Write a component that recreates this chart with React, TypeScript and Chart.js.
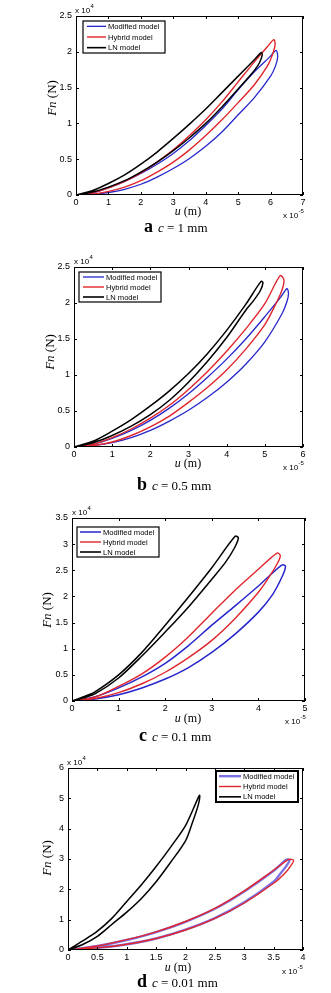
import React, { useEffect, useRef } from "react";
import { Chart, registerables } from "chart.js";
Chart.register(...registerables);

// ---------- DATA (u in 1e-5 m, Fn in 1e4 N); each loop: loading branch then unloading branch ----------
// Panel a: c = 1 mm
const aModU = [0, 0.5, 1, 1.5, 2, 2.5, 3, 3.5, 4, 4.5, 5, 5.5, 6, 6.17, 6.22, 6.15, 6.0, 5.5, 5, 4.5, 4, 3.5, 3, 2.5, 2, 1.5, 1, 0.5, 0];
const aModF = [0, 0.03, 0.1, 0.19, 0.3, 0.43, 0.58, 0.76, 0.97, 1.2, 1.47, 1.72, 1.94, 2.02, 1.93, 1.8, 1.66, 1.36, 1.12, 0.88, 0.68, 0.51, 0.37, 0.25, 0.15, 0.08, 0.035, 0.01, 0];
const aHybU = [0, 0.5, 1, 1.5, 2, 2.5, 3, 3.5, 4, 4.5, 5, 5.5, 5.9, 6.1, 6.14, 6.05, 5.9, 5.5, 5, 4.5, 4, 3.5, 3, 2.5, 2, 1.5, 1, 0.5, 0];
const aHybF = [0, 0.03, 0.1, 0.19, 0.31, 0.46, 0.63, 0.83, 1.05, 1.3, 1.58, 1.86, 2.07, 2.17, 2.1, 1.95, 1.8, 1.54, 1.29, 1.05, 0.83, 0.63, 0.46, 0.32, 0.2, 0.11, 0.05, 0.01, 0];
const aLnU = [0, 0.5, 1, 1.5, 2, 2.5, 3, 3.5, 4, 4.5, 5, 5.5, 5.72, 5.74, 5.65, 5.5, 5, 4.5, 4, 3.5, 3, 2.5, 2, 1.5, 1, 0.5, 0];
const aLnF = [0, 0.06, 0.16, 0.28, 0.43, 0.6, 0.79, 0.99, 1.2, 1.43, 1.66, 1.89, 1.99, 1.95, 1.84, 1.74, 1.48, 1.23, 1.0, 0.8, 0.62, 0.46, 0.32, 0.2, 0.11, 0.04, 0];

// Panel b: c = 0.5 mm
const bModU = [0, 0.5, 1, 1.5, 2, 2.5, 3, 3.5, 4, 4.5, 5, 5.4, 5.58, 5.62, 5.58, 5.45, 5, 4.5, 4, 3.5, 3, 2.5, 2, 1.5, 1, 0.5, 0];
const bModF = [0, 0.04, 0.12, 0.23, 0.37, 0.54, 0.74, 0.97, 1.22, 1.5, 1.81, 2.07, 2.2, 2.13, 2.02, 1.85, 1.46, 1.15, 0.9, 0.69, 0.51, 0.36, 0.23, 0.13, 0.06, 0.02, 0];
const bHybU = [0, 0.5, 1, 1.5, 2, 2.5, 3, 3.5, 4, 4.5, 5, 5.4, 5.5, 5.45, 5.3, 5, 4.5, 4, 3.5, 3, 2.5, 2, 1.5, 1, 0.5, 0];
const bHybF = [0, 0.04, 0.13, 0.25, 0.4, 0.58, 0.8, 1.05, 1.33, 1.64, 1.99, 2.38, 2.32, 2.18, 2.0, 1.7, 1.36, 1.07, 0.83, 0.62, 0.43, 0.28, 0.16, 0.07, 0.02, 0];
const bLnU = [0, 0.5, 1, 1.5, 2, 2.5, 3, 3.5, 4, 4.5, 4.9, 4.95, 4.88, 4.7, 4.5, 4, 3.5, 3, 2.5, 2, 1.5, 1, 0.5, 0];
const bLnF = [0, 0.08, 0.22, 0.38, 0.57, 0.78, 1.02, 1.3, 1.62, 1.98, 2.3, 2.28, 2.17, 2.03, 1.9, 1.52, 1.19, 0.9, 0.65, 0.45, 0.29, 0.16, 0.06, 0];

// Panel c: c = 0.1 mm
const cModU = [0, 0.5, 1, 1.5, 2, 2.5, 3, 3.5, 4, 4.5, 4.58, 4.52, 4.3, 4, 3.5, 3, 2.5, 2, 1.5, 1, 0.5, 0];
const cModF = [0, 0.08, 0.25, 0.46, 0.72, 1.06, 1.45, 1.82, 2.2, 2.6, 2.58, 2.4, 2.03, 1.7, 1.28, 0.93, 0.64, 0.42, 0.25, 0.12, 0.04, 0];
const cHybU = [0, 0.5, 1, 1.5, 2, 2.5, 3, 3.5, 4, 4.4, 4.47, 4.4, 4.2, 4, 3.5, 3, 2.5, 2, 1.5, 1, 0.5, 0];
const cHybF = [0, 0.08, 0.28, 0.52, 0.84, 1.23, 1.68, 2.12, 2.52, 2.83, 2.78, 2.62, 2.33, 2.08, 1.58, 1.16, 0.83, 0.55, 0.33, 0.16, 0.05, 0];
const cLnU = [0, 0.25, 0.5, 1, 1.5, 2, 2.5, 3, 3.5, 3.57, 3.5, 3.3, 3, 2.5, 2, 1.5, 1, 0.5, 0.25, 0];
const cLnF = [0, 0.08, 0.18, 0.5, 0.93, 1.45, 1.99, 2.55, 3.15, 3.12, 2.95, 2.66, 2.33, 1.8, 1.32, 0.86, 0.44, 0.14, 0.06, 0];

// Panel d: c = 0.01 mm
const dModU = [0, 0.5, 1, 1.5, 2, 2.5, 3, 3.5, 3.72, 3.77, 3.72, 3.6, 3.5, 3, 2.5, 2, 1.5, 1, 0.5, 0];
const dModF = [0, 0.13, 0.33, 0.59, 0.93, 1.36, 1.93, 2.61, 2.98, 2.96, 2.78, 2.48, 2.25, 1.57, 1.05, 0.67, 0.38, 0.19, 0.07, 0];
const dHybU = [0, 0.5, 1, 1.5, 2, 2.5, 3, 3.5, 3.75, 3.84, 3.8, 3.7, 3.5, 3, 2.5, 2, 1.5, 1, 0.5, 0];
const dHybF = [0, 0.13, 0.34, 0.6, 0.94, 1.37, 1.95, 2.63, 2.98, 2.96, 2.8, 2.55, 2.2, 1.55, 1.04, 0.66, 0.38, 0.19, 0.07, 0];
const dLnU = [0, 0.25, 0.5, 0.75, 1, 1.25, 1.5, 1.75, 2, 2.2, 2.24, 2.22, 2.1, 2, 1.75, 1.5, 1.25, 1, 0.75, 0.5, 0.25, 0];
const dLnF = [0, 0.3, 0.62, 1.05, 1.6, 2.15, 2.75, 3.4, 4.1, 4.95, 5.1, 4.8, 4.1, 3.6, 2.9, 2.25, 1.7, 1.25, 0.85, 0.45, 0.18, 0];

const seriesNames = ["Modified model", "Hybrid model", "LN model"];

// ---------- STYLE / LAYOUT ----------
const BLUE = "#2626cc";
const RED = "#e0262c";
const BLACK = "#000000";
const SANS = "'Liberation Sans', Arial, sans-serif";
const SERIF = "'Liberation Serif', 'Times New Roman', serif";

type Panel = {
  key: string;
  top: number;
  height: number;
  area: { l: number; r: number; t: number; b: number };
  xMax: number; xStep: number; yMax: number; yStep: number;
  series: [number[], number[]][];
  letter: string; captionText: string; capX: number; capY: number;
  yTitle: { x: number; y: number };
  xTitle: { x: number; y: number };
  expTop: { x: number; y: number };
  expBot: { x: number; y: number };
  legend: { x: number; y: number; w: number; h: number; lx0: number; lx1: number; tx: number; border: number };
  blueW: number; blueColor: string;
};

const panels: Panel[] = [
  {
    key: "a", top: 0, height: 250, area: { l: 76, r: 303, t: 16, b: 195 },
    xMax: 7, xStep: 1, yMax: 2.5, yStep: 0.5,
    series: [[aModU, aModF], [aHybU, aHybF], [aLnU, aLnF]],
    letter: "a", captionText: "c = 1 mm", capX: 144, capY: 232,
    yTitle: { x: 53, y: 98 }, xTitle: { x: 188, y: 215 },
    expTop: { x: 75, y: 13 }, expBot: { x: 283, y: 218 },
    legend: { x: 83, y: 21, w: 82, h: 32, lx0: 87, lx1: 106, tx: 108, border: 1.2 },
    blueW: 1.3, blueColor: BLUE,
  },
  {
    key: "b", top: 250, height: 250, area: { l: 74, r: 303, t: 267, b: 447 },
    xMax: 6, xStep: 1, yMax: 2.5, yStep: 0.5,
    series: [[bModU, bModF], [bHybU, bHybF], [bLnU, bLnF]],
    letter: "b", captionText: "c = 0.5 mm", capX: 137, capY: 490,
    yTitle: { x: 51, y: 352 }, xTitle: { x: 188, y: 467 },
    expTop: { x: 74, y: 264 }, expBot: { x: 283, y: 470 },
    legend: { x: 79, y: 272, w: 82, h: 30, lx0: 83, lx1: 104, tx: 106, border: 1.2 },
    blueW: 1.3, blueColor: BLUE,
  },
  {
    key: "c", top: 500, height: 245, area: { l: 72, r: 305, t: 518, b: 701 },
    xMax: 5, xStep: 1, yMax: 3.5, yStep: 0.5,
    series: [[cModU, cModF], [cHybU, cHybF], [cLnU, cLnF]],
    letter: "c", captionText: "c = 0.1 mm", capX: 139, capY: 741,
    yTitle: { x: 48, y: 610 }, xTitle: { x: 188, y: 722 },
    expTop: { x: 72, y: 515 }, expBot: { x: 285, y: 724 },
    legend: { x: 77, y: 527, w: 82, h: 30, lx0: 80, lx1: 101, tx: 103, border: 1.2 },
    blueW: 1.5, blueColor: BLUE,
  },
  {
    key: "d", top: 745, height: 248, area: { l: 68, r: 303, t: 768, b: 950 },
    xMax: 4, xStep: 0.5, yMax: 6, yStep: 1,
    series: [[dModU, dModF], [dHybU, dHybF], [dLnU, dLnF]],
    letter: "d", captionText: "c = 0.01 mm", capX: 137, capY: 987,
    yTitle: { x: 48, y: 858 }, xTitle: { x: 178, y: 971 },
    expTop: { x: 67, y: 765 }, expBot: { x: 282, y: 974 },
    legend: { x: 216, y: 771, w: 82, h: 31, lx0: 219, lx1: 241, tx: 243, border: 2 },
    blueW: 2.4, blueColor: "#7b72e4",
  },
];

const YAXIS_W = 30;
const XAXIS_H = 14;

function drawExp(ctx: CanvasRenderingContext2D, x: number, y: number, exp: string) {
  ctx.font = `8px ${SANS}`;
  ctx.textAlign = "left";
  ctx.textBaseline = "alphabetic";
  ctx.fillStyle = "#000";
  ctx.fillText("x 10", x, y);
  const w = ctx.measureText("x 10").width;
  ctx.font = `6px ${SANS}`;
  ctx.fillText(exp, x + w + 0.5, y - 5);
}

function makePlugin(p: Panel) {
  return {
    id: "decor_" + p.key,
    afterDatasetsDraw(chart: any) {
      const ctx: CanvasRenderingContext2D = chart.ctx;
      const a = chart.chartArea;
      const xs = chart.scales.x;
      const ys = chart.scales.y;
      ctx.save();
      ctx.strokeStyle = "#000";
      ctx.lineWidth = 1;
      ctx.strokeRect(a.left + 0.5, a.top + 0.5, a.right - a.left - 1, a.bottom - a.top - 1);
      const tl = 3;
      ctx.beginPath();
      xs.ticks.forEach((t: any) => {
        const px = Math.round(xs.getPixelForValue(t.value)) + 0.5;
        ctx.moveTo(px, a.bottom); ctx.lineTo(px, a.bottom - tl);
        ctx.moveTo(px, a.top); ctx.lineTo(px, a.top + tl);
      });
      ys.ticks.forEach((t: any) => {
        const py = Math.round(ys.getPixelForValue(t.value)) + 0.5;
        ctx.moveTo(a.left, py); ctx.lineTo(a.left + tl, py);
        ctx.moveTo(a.right, py); ctx.lineTo(a.right - tl, py);
      });
      ctx.stroke();
      ctx.restore();
    },
    afterDraw(chart: any) {
      const ctx: CanvasRenderingContext2D = chart.ctx;
      const off = p.top;
      ctx.save();
      ctx.fillStyle = "#000";

      // Legend
      const L = p.legend;
      ctx.fillStyle = "#fff";
      ctx.fillRect(L.x, L.y - off, L.w, L.h);
      ctx.strokeStyle = "#000";
      ctx.lineWidth = L.border;
      ctx.strokeRect(L.x, L.y - off, L.w, L.h);
      const colors = [p.blueColor, RED, BLACK];
      const widths = [p.blueW, 1.4, 1.6];
      seriesNames.forEach((name, i) => {
        const yy = L.y - off + L.h * (i + 0.5) / 3;
        ctx.strokeStyle = colors[i];
        ctx.lineWidth = widths[i];
        ctx.beginPath();
        ctx.moveTo(L.lx0, yy);
        ctx.lineTo(L.lx1, yy);
        ctx.stroke();
        ctx.fillStyle = "#000";
        ctx.font = `7.6px ${SANS}`;
        ctx.textAlign = "left";
        ctx.textBaseline = "middle";
        ctx.fillText(name, L.tx, yy + 0.5);
      });

      // Exponent labels
      drawExp(ctx, p.expTop.x, p.expTop.y - off, "4");
      drawExp(ctx, p.expBot.x, p.expBot.y - off, "-5");

      // x title: u (m)
      ctx.textBaseline = "alphabetic";
      ctx.font = `italic 12px ${SERIF}`;
      const wu = ctx.measureText("u").width;
      ctx.font = `12px ${SERIF}`;
      const wr = ctx.measureText(" (m)").width;
      let sx = p.xTitle.x - (wu + wr) / 2;
      ctx.textAlign = "left";
      ctx.font = `italic 12px ${SERIF}`;
      ctx.fillText("u", sx, p.xTitle.y - off);
      ctx.font = `12px ${SERIF}`;
      ctx.fillText(" (m)", sx + wu, p.xTitle.y - off);

      // y title: Fn (N)
      ctx.save();
      ctx.translate(p.yTitle.x, p.yTitle.y - off);
      ctx.rotate(-Math.PI / 2);
      ctx.font = `italic 13px ${SERIF}`;
      const wf = ctx.measureText("Fn").width;
      ctx.font = `13px ${SERIF}`;
      const wn = ctx.measureText(" (N)").width;
      sx = -(wf + wn) / 2;
      ctx.textBaseline = "middle";
      ctx.font = `italic 13px ${SERIF}`;
      ctx.fillText("Fn", sx, 0);
      ctx.font = `13px ${SERIF}`;
      ctx.fillText(" (N)", sx + wf, 0);
      ctx.restore();

      // Caption
      ctx.textBaseline = "alphabetic";
      ctx.textAlign = "left";
      ctx.font = `bold 18px ${SERIF}`;
      ctx.fillText(p.letter, p.capX, p.capY - off);
      const wl = ctx.measureText(p.letter).width;
      let cx = p.capX + wl + 5;
      ctx.font = `italic 13px ${SERIF}`;
      ctx.fillText("c", cx, p.capY - off);
      cx += ctx.measureText("c").width;
      ctx.font = `13px ${SERIF}`;
      ctx.fillText(p.captionText.slice(1), cx, p.capY - off);

      ctx.restore();
    },
  };
}

function PanelChart({ p }: { p: Panel }) {
  const ref = useRef<HTMLCanvasElement | null>(null);
  useEffect(() => {
    if (!ref.current) return;
    const colors = [p.blueColor, RED, BLACK];
    const widths = [p.blueW, 1.4, 1.5];
    const orders = [3, 2, 1];
    const datasets = p.series.map(([us, fs], i) => ({
      label: seriesNames[i],
      data: us.map((u, k) => ({ x: u, y: fs[k] })),
      showLine: true,
      borderColor: colors[i],
      backgroundColor: colors[i],
      borderWidth: widths[i],
      pointRadius: 0,
      tension: 0.3,
      fill: false,
      order: orders[i],
    }));
    const tickFont = { family: SANS, size: 9 };
    const chart = new Chart(ref.current, {
      type: "scatter",
      data: { datasets },
      options: {
        animation: false,
        responsive: false,
        maintainAspectRatio: false,
        devicePixelRatio: 1,
        layout: {
          padding: {
            left: p.area.l - YAXIS_W,
            right: 331 - p.area.r,
            top: p.area.t - p.top,
            bottom: p.top + p.height - p.area.b - XAXIS_H,
          },
        },
        plugins: { legend: { display: false }, tooltip: { enabled: false }, title: { display: false } },
        scales: {
          x: {
            type: "linear",
            min: 0,
            max: p.xMax,
            grid: { display: false, drawTicks: false },
            border: { display: false },
            ticks: {
              stepSize: p.xStep,
              color: "#000",
              font: tickFont,
              padding: 2,
              maxRotation: 0,
              autoSkip: false,
              callback: (v: any) => String(Math.round(Number(v) * 10) / 10),
            },
            afterFit: (s: any) => { s.height = XAXIS_H; },
          },
          y: {
            type: "linear",
            min: 0,
            max: p.yMax,
            grid: { display: false, drawTicks: false },
            border: { display: false },
            ticks: {
              stepSize: p.yStep,
              color: "#000",
              font: tickFont,
              padding: 4,
              autoSkip: false,
              callback: (v: any) => String(Math.round(Number(v) * 10) / 10),
            },
            afterFit: (s: any) => { s.width = YAXIS_W; },
          },
        },
      } as any,
      plugins: [makePlugin(p)],
    });
    return () => chart.destroy();
  }, [p]);
  return (
    <canvas
      ref={ref}
      width={331}
      height={p.height}
      style={{ position: "absolute", left: 0, top: p.top, width: 331, height: p.height, display: "block" }}
    />
  );
}

export default function App() {
  return (
    <div style={{ position: "absolute", left: 0, top: 0, width: 331, height: 993, background: "#fff", overflow: "hidden" }}>
      {panels.map((p) => (
        <PanelChart key={p.key} p={p} />
      ))}
    </div>
  );
}
